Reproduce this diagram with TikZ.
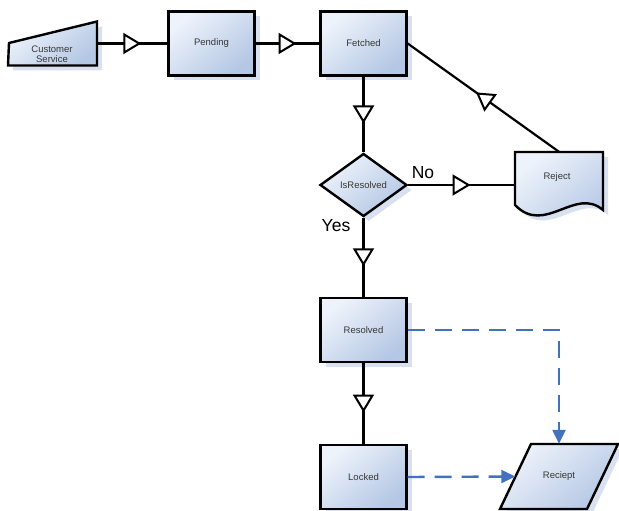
\documentclass[tikz,border=0pt]{standalone}
\usepackage{fontspec}
\setmainfont{Liberation Sans}
\usetikzlibrary{shapes.geometric, arrows.meta, decorations.markings, shadows}
\definecolor{shadeTop}{RGB}{238,243,251}
\definecolor{shadeBot}{RGB}{180,199,228}
\definecolor{shadowBlue}{RGB}{208,218,237}
\definecolor{dashBlue}{RGB}{66,114,188}
\definecolor{txt}{RGB}{55,55,55}
\tikzset{
  boxshade/.style={top color=shadeTop, bottom color=shadeBot, shading angle=40},
  boxshadow/.style={drop shadow={shadow xshift=5pt, shadow yshift=-5pt, fill=shadowBlue, opacity=.8}},
  outline/.style={draw=black, line width=2.4pt, line join=miter},
  smalltext/.style={font=\fontsize{9.5}{11.5}\selectfont, text=txt, align=center},
  procbox/.style={rectangle, outline, boxshade, boxshadow, minimum width=86pt, minimum height=64pt, inner sep=0pt, smalltext},
  decision/.style={diamond, outline, boxshade, boxshadow, minimum width=87pt, minimum height=63pt, inner sep=0pt, smalltext},
  ghost/.style={rectangle, draw=none, inner sep=0pt},
  biglabel/.style={font=\fontsize{17.5}{20}\selectfont, text=black},
  flow/.style={draw=black, line width=2.2pt, postaction={decorate},
    decoration={markings, mark=at position 0.5 with {\arrow[xshift=9pt]{Triangle[length=18pt,width=21pt,fill=white,line width=2pt]}}}},
  dataflow/.style={draw=dashBlue, line width=2.4pt, dash pattern=on 17pt off 10pt, -{Triangle[length=14pt,width=13pt]}}
}
\begin{document}
\begin{tikzpicture}[x=1pt, y=-1pt]
\useasboundingbox (0,0) rectangle (619,511);

% Customer Service (manual input)
\node[ghost, minimum width=89pt, minimum height=44pt] (cs) at (52.5,43.5) {};
\draw[outline, boxshade, boxshadow] (9,43) -- (97,21.5) -- (97,65.5) -- (8,65.5) -- cycle;
\node[smalltext] (cstext) at (52,54) {Customer\\[-1pt]Service};

% process boxes
\node[procbox] (pending) at (211.5,43.5) {Pending};
\node[procbox] (fetched) at (363.5,43.5) {Fetched};
\node[decision] (isres) at (363.5,185) {IsResolved};
\node[procbox] (resolved) at (363.5,330) {Resolved};
\node[procbox] (locked) at (363.5,477) {Locked};

% Reject (document)
\node[ghost, minimum width=88pt, minimum height=66pt] (reject) at (559,185) {};
\draw[outline, boxshade, boxshadow] (515,152) -- (603,152) -- (603,210)
  .. controls (575,186) and (545,236) .. (515,205) -- cycle;
\node[smalltext] (rejecttext) at (557,177) {Reject};

% Reciept (data)
\node[ghost, minimum width=87pt, minimum height=65pt] (reciept) at (559,476.5) {};
\draw[outline, boxshade, boxshadow] (531,444) -- (618,444) -- (587,509) -- (500,509) -- cycle;
\node[smalltext] (reciepttext) at (559,476.5) {Reciept};

% connectors
\draw[flow] (cs.east) -- (pending.west);
\draw[flow] (pending.east) -- (fetched.west);
\draw[flow] (fetched.south) -- (isres.north);
\draw[flow] (isres.east) -- (reject.west);
\draw[flow] (reject.north) -- (fetched.east);
\draw[flow] (isres.south) -- (resolved.north);
\draw[flow] (resolved.south) -- (locked.north);
\draw[dataflow] (resolved.east) -| (reciept.north);
\draw[dataflow] (locked.east) -- (reciept.west);

% labels
\node[biglabel] (nolabel) at (423,173) {No};
\node[biglabel] (yeslabel) at (336,226) {Yes};
\end{tikzpicture}
\end{document}
